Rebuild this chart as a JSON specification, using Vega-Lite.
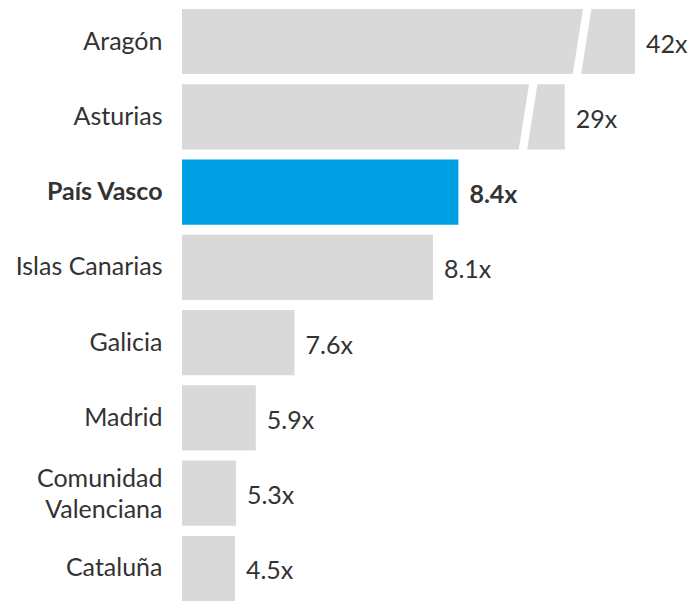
{
  "$schema": "https://vega.github.io/schema/vega-lite/v6.json",
  "width": 509,
  "height": 592,
  "autosize": {"type": "none"},
  "padding": {"left": 182, "top": 9, "right": 0, "bottom": 0},
  "config": {"view": {"stroke": null}, "font": "Lato"},
  "data": {
    "values": [
      {"region": "Aragón", "value": 42, "length": 89.0, "brk": 78.6},
      {"region": "Asturias", "value": 29, "length": 75.2, "brk": 68.0},
      {"region": "País Vasco", "value": 8.4, "length": 54.3},
      {"region": "Islas Canarias", "value": 8.1, "length": 49.3},
      {"region": "Galicia", "value": 7.6, "length": 22.1},
      {"region": "Madrid", "value": 5.9, "length": 14.5},
      {"region": "Comunidad Valenciana", "value": 5.3, "length": 10.6},
      {"region": "Cataluña", "value": 4.5, "length": 10.4}
    ]
  },
  "encoding": {
    "y": {
      "field": "region",
      "type": "nominal",
      "sort": null,
      "title": null,
      "scale": {"paddingInner": 0.135, "paddingOuter": 0},
      "axis": {
        "domain": false,
        "ticks": false,
        "labelPadding": 20,
        "labelFontSize": 25,
        "labelColor": "#333333",
        "labelLimit": 300,
        "labelLineHeight": 31,
        "labelExpr": "datum.value == 'Comunidad Valenciana' ? ['Comunidad', 'Valenciana'] : datum.value",
        "labelOffset": {"condition": {"test": "datum.value == 'Comunidad Valenciana'", "value": -14}, "value": 0},
        "labelFontWeight": {"condition": {"test": "datum.value == 'País Vasco'", "value": "bold"}, "value": "normal"}
      }
    }
  },
  "layer": [
    {
      "mark": {"type": "bar"},
      "encoding": {
        "x": {"field": "length", "type": "quantitative", "scale": {"domain": [0, 100]}, "axis": null},
        "color": {"condition": {"test": "datum.region == 'País Vasco'", "value": "#009fe3"}, "value": "#d9d9d9"}
      }
    },
    {
      "transform": [{"filter": "isValid(datum.brk)"}],
      "mark": {
        "type": "point",
        "shape": "M 0.037 -1 L 0.277 -1 L -0.037 1 L -0.277 1 Z",
        "size": 4900,
        "filled": true,
        "color": "white",
        "opacity": 1,
        "strokeWidth": 0
      },
      "encoding": {
        "x": {"field": "brk", "type": "quantitative"}
      }
    },
    {
      "mark": {
        "type": "text",
        "align": "left",
        "baseline": "middle",
        "dx": 11,
        "dy": 3,
        "fontSize": 25,
        "color": "#333333",
        "text": {"expr": "datum.value + 'x'"},
        "fontWeight": {"expr": "datum.region == 'País Vasco' ? 'bold' : 'normal'"}
      },
      "encoding": {
        "x": {"field": "length", "type": "quantitative"}
      }
    }
  ]
}
